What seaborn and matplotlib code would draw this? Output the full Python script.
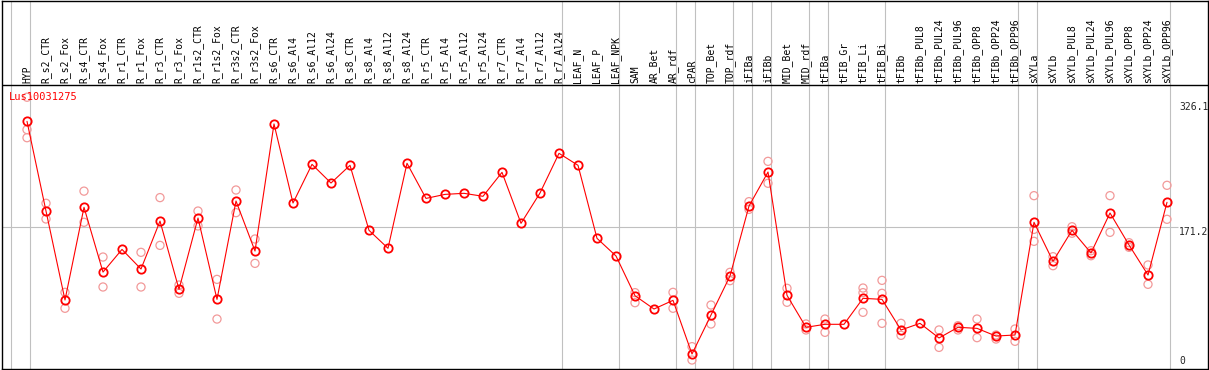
import numpy as np
import pandas as pd
import matplotlib
matplotlib.use("Agg")
import matplotlib.pyplot as plt
import seaborn as sns

gene = "Lus10031275"

samples = ["HYP", "R_s2_CTR", "R_s2_Fox", "R_s4_CTR", "R_s4_Fox", "R_r1_CTR", "R_r1_Fox",
           "R_r3_CTR", "R_r3_Fox", "R_r1s2_CTR", "R_r1s2_Fox", "R_r3s2_CTR", "R_r3s2_Fox",
           "R_s6_CTR", "R_s6_Al4", "R_s6_Al12", "R_s6_Al24", "R_s8_CTR", "R_s8_Al4",
           "R_s8_Al12", "R_s8_Al24", "R_r5_CTR", "R_r5_Al4", "R_r5_Al12", "R_r5_Al24",
           "R_r7_CTR", "R_r7_Al4", "R_r7_Al12", "R_r7_Al24", "LEAF_N", "LEAF_P", "LEAF_NPK",
           "SAM", "AR_Bet", "AR_rdf", "cPAR", "TOP_Bet", "TOP_rdf", "iFIBa", "iFIBb",
           "MID_Bet", "MID_rdf", "tFIBa", "tFIB_Gr", "tFIB_Li", "tFIB_Bi", "tFIBb",
           "tFIBb_PUL8", "tFIBb_PUL24", "tFIBb_PUL96", "tFIBb_OPP8", "tFIBb_OPP24",
           "tFIBb_OPP96", "sXYLa", "sXYLb", "sXYLb_PUL8", "sXYLb_PUL24", "sXYLb_PUL96",
           "sXYLb_OPP8", "sXYLb_OPP24", "sXYLb_OPP96"]

mean_expr = [302.2, 191.4, 81.5, 196.0, 116.0, 144.0, 119.8, 179.0, 94.7, 182.8, 82.3, 203.8,
             142.0, 299.0, 201.3, 249.1, 226.0, 247.9, 167.6, 145.4, 250.4, 207.0, 212.0,
             213.3, 209.6, 239.2, 176.2, 213.7, 262.7, 247.9, 157.7, 135.9, 86.8, 70.4, 81.1,
             14.8, 63.0, 111.2, 197.6, 239.6, 87.3, 47.8, 51.5, 51.5, 83.6, 82.3, 44.5, 52.7,
             34.6, 47.8, 46.5, 37.0, 38.3, 177.5, 129.3, 167.6, 139.6, 189.0, 149.5, 112.4,
             202.2]

rep_expr = [[332, 292, 282], [201, 181.6], [91, 71.3], [216, 177.5], [134.6, 97.6], [],
            [140.4, 97.6], [208, 149], [100, 89.8], [191.4, 173], [107, 58], [217.4, 189.4],
            [156.9, 126.8], [], [], [], [], [], [], [], [], [], [], [], [], [], [], [], [],
            [], [], [], [90.6, 78.2], [], [91, 71.3], [23.9, 7.4], [75.3, 51.9],
            [115.7, 105.4], [203, 193.5], [252.8, 225.7], [96, 78.7], [51.9, 44.5],
            [58, 41.6], [], [96.3, 90.6, 66.3], [105.8, 89.8, 52.7], [52.7, 37.9], [],
            [44.5, 23], [49.8, 44.5], [58, 35], [38.3, 33.3], [45.7, 30.5],
            [210.4, 168.8, 154], [135, 123.9], [172, 164], [142.4, 136.2], [210.4, 165.1],
            [152.3, 146.6], [124.8, 100.9], [223.2, 181.2]]

# separators drawn right after these samples (plus one before the first)
group_ends = ["HYP", "R_r7_Al24", "LEAF_NPK", "AR_rdf", "cPAR", "TOP_rdf", "iFIBa", "iFIBb",
              "MID_rdf", "tFIBa", "tFIB_Bi", "tFIBb_OPP96", "sXYLa", "sXYLb_OPP96"]

y_ticks = [326.1, 171.2, 0]

sns.set_style("white")
plt.rcParams["font.family"] = ["DejaVu Sans Mono"]

pos = np.arange(len(samples))
df = pd.DataFrame({"sample": samples, "x": pos, "expr": mean_expr})
reps = pd.DataFrame([(i, v) for i, vals in enumerate(rep_expr) for v in vals],
                    columns=["x", "expr"])

W, H = 1209, 370
fig = plt.figure(figsize=(W / 100, H / 100), dpi=100)
ax = fig.add_axes([2 / W, 1 / H, 1206 / W, 368.5 / H])

# pixel mapping: x_px = 27 + 19*i, value 0 -> px 366, 326.1 -> px 102
scale = 264 / 326.1
ax.set_xlim(-25 / 19, 1181 / 19)
ax.set_ylim((366 - 369) / scale, (366 - 0.5) / scale)

sep = [-1] + [samples.index(s) for s in group_ends]
ax.vlines(np.array(sep) + 0.18, *ax.get_ylim(), color="#c0c0c0", lw=0.8, zorder=1)
ax.hlines(171.2, ax.get_xlim()[0], (1178 - 27) / 19, color="#c0c0c0", lw=0.8, zorder=1)
ax.axhline((366 - 85) / scale, color="black", lw=1.0, zorder=2)

sns.scatterplot(data=reps, x="x", y="expr", ax=ax, marker="o", s=34,
                facecolor="none", edgecolor="#f29a9a", linewidth=0.9, zorder=3, legend=False)
sns.lineplot(data=df, x="x", y="expr", ax=ax, color="#ff0000", lw=0.8,
             marker="o", markersize=6, markerfacecolor="none", markeredgecolor="#ff0000",
             markeredgewidth=1.3, zorder=4)

label_y = (366 - 83) / scale
for i, s in enumerate(samples):
    ax.text(i, label_y, s, rotation=90, ha="center", va="bottom", fontsize=7, color="black")

ax.text((9 - 27) / 19, (366 - 97) / scale, gene, color="#ff0000", fontsize=7.5,
        ha="left", va="center")

tx = (1179 - 27) / 19
for v in y_ticks:
    ax.text(tx, v, f"{v:g}", fontsize=7, ha="left", va="top" if v > 0 else "bottom")

ax.set_xticks([])
ax.set_yticks([])
ax.set_xlabel("")
ax.set_ylabel("")
for sp in ax.spines.values():
    sp.set_color("black")
    sp.set_linewidth(1.0)

fig.savefig("out.png", dpi=100)
